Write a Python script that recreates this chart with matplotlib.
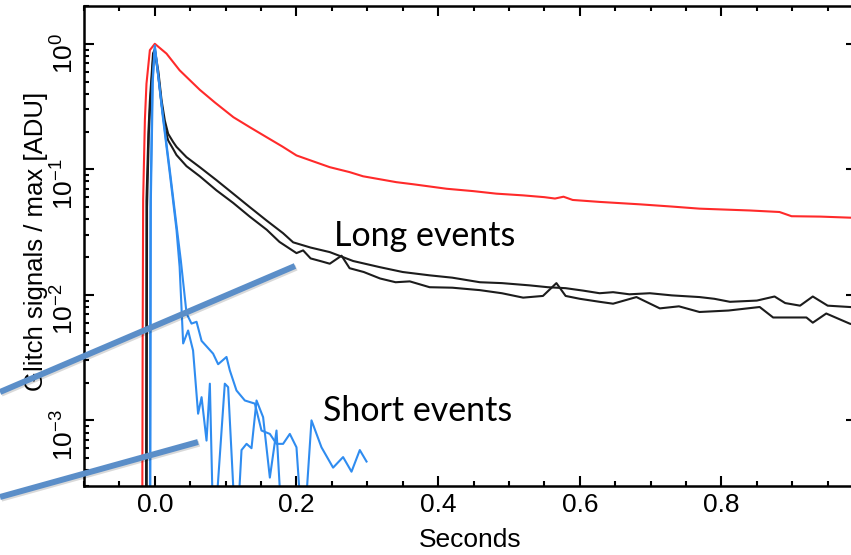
import numpy as np
import matplotlib
matplotlib.use("Agg")
import matplotlib.pyplot as plt
from matplotlib.lines import Line2D
from matplotlib.ticker import MultipleLocator, FormatStrFormatter
import matplotlib.patheffects as pe

plt.rcParams['font.family'] = ['Liberation Sans', 'DejaVu Sans']

# long event (red) - normalised glitch template
red_t = [-0.0178, -0.0172, -0.0165, -0.014, -0.0118, -0.007, 0.0, 0.0165, 0.035, 0.0635,
         0.085, 0.111, 0.135, 0.158, 0.18, 0.2, 0.225, 0.247, 0.275, 0.294, 0.341, 0.365,
         0.412, 0.45, 0.482, 0.52, 0.55, 0.565, 0.577, 0.59, 0.628, 0.685, 0.73, 0.769,
         0.84, 0.882, 0.899, 0.94, 0.981, 1.0]
red_v = [1e-4, 0.004, 0.057, 0.25, 0.48, 0.89, 1.0, 0.835, 0.615, 0.43,
         0.34, 0.26, 0.215, 0.18, 0.152, 0.129, 0.115, 0.104, 0.095, 0.088, 0.079, 0.076,
         0.070, 0.067, 0.064, 0.062, 0.060, 0.0585, 0.0605, 0.057, 0.055, 0.0526, 0.0505,
         0.0486, 0.047, 0.0457, 0.0423, 0.042, 0.0412, 0.041]

# long events (black)
black1_t = [-0.0125, -0.0118, -0.009, -0.007, -0.0025, 0.0, 0.005, 0.0095, 0.0141, 0.0188,
            0.0259, 0.0306, 0.0447, 0.0635, 0.087, 0.1106, 0.134, 0.158, 0.181, 0.1953,
            0.22, 0.247, 0.28, 0.318, 0.35, 0.388, 0.42, 0.459, 0.49, 0.529, 0.555, 0.58,
            0.605, 0.628, 0.647, 0.67, 0.699, 0.73, 0.769, 0.79, 0.812, 0.85, 0.875, 0.89,
            0.911, 0.929, 0.95, 0.981, 1.0]
black1_v = [1e-4, 0.056, 0.2, 0.35, 0.84, 0.9, 0.6, 0.355, 0.245, 0.192,
            0.165, 0.151, 0.125, 0.104, 0.082, 0.064, 0.05, 0.039, 0.031, 0.0262,
            0.0238, 0.0219, 0.0186, 0.0166, 0.0152, 0.0143, 0.0137, 0.0126, 0.0124, 0.0119,
            0.0115, 0.0113, 0.0108, 0.0103, 0.0105, 0.0101, 0.0103, 0.0099, 0.0096, 0.0093,
            0.0088, 0.0090, 0.0097, 0.0086, 0.0082, 0.0097, 0.0082, 0.008, 0.0079]

black2_t = [-0.0115, -0.011, -0.0085, -0.0065, -0.002, 0.0, 0.005, 0.0095, 0.0141, 0.0188,
            0.0259, 0.0306, 0.0447, 0.0635, 0.087, 0.1106, 0.134, 0.158, 0.176, 0.2, 0.2094,
            0.22, 0.235, 0.247, 0.2636, 0.275, 0.295, 0.318, 0.34, 0.36, 0.388, 0.42, 0.459,
            0.49, 0.52, 0.548, 0.567, 0.58, 0.6, 0.628, 0.647, 0.68, 0.713, 0.74, 0.769,
            0.81, 0.854, 0.873, 0.92, 0.929, 0.948, 0.981, 1.0]
black2_v = [1e-4, 0.05, 0.19, 0.33, 0.82, 0.88, 0.55, 0.33, 0.215, 0.17,
            0.145, 0.13, 0.106, 0.088, 0.068, 0.054, 0.042, 0.033, 0.0264, 0.0215, 0.0226,
            0.0195, 0.0185, 0.0177, 0.0205, 0.0163, 0.0152, 0.0135, 0.0126, 0.0128, 0.0115,
            0.0114, 0.0109, 0.0103, 0.0095, 0.0098, 0.0124, 0.0098, 0.0093, 0.0088, 0.0085,
            0.0096, 0.0078, 0.0081, 0.0073, 0.0075, 0.008, 0.0066, 0.0066, 0.006, 0.0071,
            0.0059, 0.0055]

# short events (blue)
blue1_t = [-0.0065, -0.0056, -0.0028, 0.0, 0.0117, 0.0212, 0.0306, 0.0367, 0.0448, 0.0518,
           0.0589, 0.066, 0.0823, 0.0894, 0.1012, 0.1059, 0.1153, 0.1271, 0.1412, 0.1506,
           0.1624, 0.1718, 0.1811, 0.1906, 0.2, 0.2094, 0.2212, 0.2353, 0.2517, 0.2658,
           0.2777, 0.2894, 0.2989]
blue1_v = [1e-4, 0.0566, 0.51, 0.97, 0.261, 0.098, 0.0358, 0.0188, 0.0071, 0.0059,
           0.0061, 0.0043, 0.0034, 0.0028, 0.0032, 0.0025, 0.00173, 0.00144, 0.00136, 0.00083,
           0.00078, 0.00065, 0.00065, 0.00078, 0.00061, 1e-4, 0.001, 0.00061, 0.00042, 0.00051,
           0.00039, 0.00058, 0.00047]

blue2_t = [-0.007, -0.0062, -0.0035, 0.0, 0.0117, 0.0212, 0.0306, 0.035, 0.04, 0.047,
           0.054, 0.0611, 0.066, 0.073, 0.0777, 0.083, 0.0988, 0.1035, 0.115, 0.1224,
           0.1295, 0.1365, 0.1436, 0.1529, 0.1624, 0.1718, 0.178]
blue2_v = [1e-4, 0.05, 0.48, 0.95, 0.25, 0.092, 0.033, 0.0167, 0.0041, 0.0052,
           0.0036, 0.00113, 0.00153, 0.00069, 0.00196, 1e-4, 0.00196, 0.00184, 1e-4, 0.00058,
           0.00065, 0.0006, 0.00144, 0.00106, 0.00035, 0.00083, 0.0002]

W, H = 851, 555
fig = plt.figure(figsize=(W / 100, H / 100), dpi=100)
ax = fig.add_axes([84 / W, 69 / H, 772 / W, 480 / H])

ax.plot(red_t, red_v, color='#ff2a2a', lw=1.5)
ax.plot(black1_t, black1_v, color='#1c1c1c', lw=1.5)
ax.plot(black2_t, black2_v, color='#1c1c1c', lw=1.5)
ax.plot(blue1_t, blue1_v, color='#2f8cf0', lw=1.5)
ax.plot(blue2_t, blue2_v, color='#2f8cf0', lw=1.5)

ax.set_yscale('log')
ax.set_xlim(-0.1, 0.99)
ax.set_ylim(3e-4, 2.0)
ax.set_xticks([0.0, 0.2, 0.4, 0.6, 0.8])
ax.xaxis.set_minor_locator(MultipleLocator(0.05))
ax.xaxis.set_major_formatter(FormatStrFormatter('%.1f'))

ax.tick_params(which='both', direction='in', top=True, right=True, width=1.5)
ax.tick_params(which='major', length=7.5)
ax.tick_params(which='minor', length=3.8)
ax.tick_params(axis='x', labelsize=19, pad=5)
ax.tick_params(axis='y', labelsize=19, labelrotation=90, pad=4)
for s in ax.spines.values():
    s.set_linewidth(1.8)

ax.set_xlabel('Seconds', fontsize=19, labelpad=8)
ax.set_ylabel('Glitch signals / max [ADU]', fontsize=18.5)
ax.yaxis.set_label_coords(-0.047, 0.51)

# pointer bars drawn over the figure
shadow = [pe.SimpleLineShadow(offset=(1.0, -1.2), alpha=0.15), pe.Normal()]
for (x0, y0), (x1, y1) in [((0, 392), (295, 266)), ((0, 497), (198, 442))]:
    fig.add_artist(Line2D([x0 / W, x1 / W], [1 - y0 / H, 1 - y1 / H],
                          transform=fig.transFigure, color='#5b8ec8', lw=4.3,
                          solid_capstyle='butt', path_effects=shadow))

fig.text(425 / W, 1 - 236 / H, 'Long events', fontsize=24.5, family='Lato',
         ha='center', va='center')
fig.text(418 / W, 1 - 411 / H, 'Short events', fontsize=24.5, family='Lato',
         ha='center', va='center')

fig.savefig('out.png', dpi=100)
